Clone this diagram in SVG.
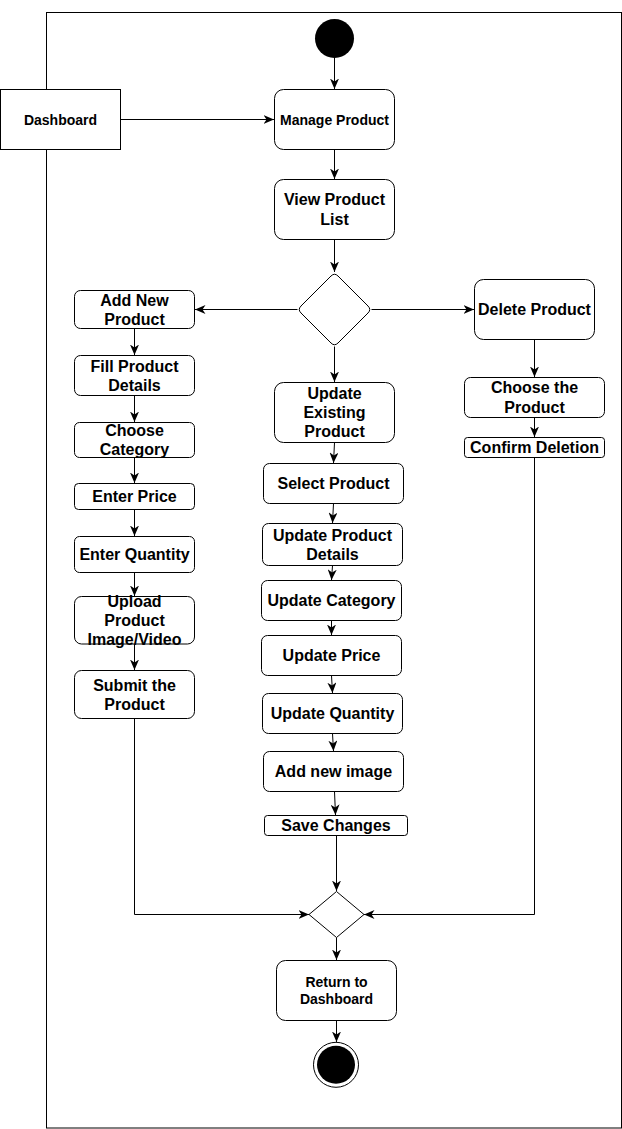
<svg xmlns="http://www.w3.org/2000/svg" width="622" height="1129" viewBox="0 0 622 1129">
<style>
.box{fill:#fff;stroke:#000;stroke-width:1}
.t{font-family:"Liberation Sans",Arial,sans-serif;font-weight:bold;font-size:16px;fill:#000;text-anchor:middle}
.s{font-size:14px}
.c{fill:none;stroke:#000;stroke-width:1}
</style>
<defs>
<marker id="ah" markerUnits="userSpaceOnUse" markerWidth="11" markerHeight="9" viewBox="0 0 11 9" refX="10.5" refY="4.5" orient="auto">
<path d="M0,0 L10.5,4.5 L0,9 L3,4.5 Z" fill="#000"/>
</marker>
</defs>
<rect x="46.5" y="12.5" width="575" height="1115.5" fill="none" stroke="#000" stroke-width="1"/>
<g id="connectors">
<path class="c" d="M120.5,119.5 H274" marker-end="url(#ah)"/>
<path class="c" d="M334.5,58 V89" marker-end="url(#ah)"/>
<path class="c" d="M334.5,149.5 V179" marker-end="url(#ah)"/>
<path class="c" d="M334.5,239.5 V272" marker-end="url(#ah)"/>
<path class="c" d="M297.5,309.5 H195" marker-end="url(#ah)"/>
<path class="c" d="M371.5,309.5 H474" marker-end="url(#ah)"/>
<path class="c" d="M334.5,346.5 V382" marker-end="url(#ah)"/>
<path class="c" d="M134.5,328.5 V355" marker-end="url(#ah)"/>
<path class="c" d="M134.5,395.5 V422" marker-end="url(#ah)"/>
<path class="c" d="M134.5,457.5 V483" marker-end="url(#ah)"/>
<path class="c" d="M134.5,509.5 V536" marker-end="url(#ah)"/>
<path class="c" d="M134.5,572.5 V596" marker-end="url(#ah)"/>
<path class="c" d="M134.5,644 V670" marker-end="url(#ah)"/>
<path class="c" d="M334.5,442.5 L333.5,463" marker-end="url(#ah)"/>
<path class="c" d="M333.5,503.5 L332.5,523" marker-end="url(#ah)"/>
<path class="c" d="M332.5,565.5 L331.5,580" marker-end="url(#ah)"/>
<path class="c" d="M331.5,620.5 L331.5,635" marker-end="url(#ah)"/>
<path class="c" d="M331.5,675.5 L332.5,693" marker-end="url(#ah)"/>
<path class="c" d="M332.5,733.5 L333.5,751" marker-end="url(#ah)"/>
<path class="c" d="M334.5,791.5 L335.5,815" marker-end="url(#ah)"/>
<path class="c" d="M336.5,835.5 V891" marker-end="url(#ah)"/>
<path class="c" d="M534.5,339.5 V377" marker-end="url(#ah)"/>
<path class="c" d="M534.5,417.5 V437" marker-end="url(#ah)"/>
<path class="c" d="M134.5,718.5 V914.5 H309" marker-end="url(#ah)"/>
<path class="c" d="M534.5,457.5 V914.5 H364" marker-end="url(#ah)"/>
<path class="c" d="M336.5,937.5 V960" marker-end="url(#ah)"/>
<path class="c" d="M336.5,1020.5 V1042" marker-end="url(#ah)"/>
</g>
<g id="start"><circle cx="334.5" cy="38.5" r="19.5" fill="#000"/></g>
<g id="dashboard">
<rect class="box" x="0.5" y="89.5" width="120" height="60"/>
<text class="t s" x="60.5" y="124.5">Dashboard</text>
</g>
<g id="manage-product">
<rect class="box" x="274.5" y="89.5" width="120" height="60" rx="9"/>
<text class="t s" x="334.5" y="124.5">Manage Product</text>
</g>
<g id="view-product-list">
<rect class="box" x="274.5" y="179.5" width="120" height="60" rx="9"/>
<text class="t" x="334.5" y="205.4">View Product<tspan x="334.5" dy="19.2">List</tspan></text>
</g>
<g id="decision">
<path class="box" d="M338,276 L368,306 Q371.5,309.5 368,313 L338,343 Q334.5,346.5 331,343 L301,313 Q297.5,309.5 301,306 L331,276 Q334.5,272.5 338,276 Z"/>
</g>
<g id="add-new-product">
<rect class="box" x="74.5" y="290.5" width="120" height="38" rx="6"/>
<text class="t" x="134.5" y="305.6">Add New<tspan x="134.5" dy="19.2">Product</tspan></text>
</g>
<g id="fill-product-details">
<rect class="box" x="74.5" y="355.5" width="120" height="40" rx="6"/>
<text class="t" x="134.5" y="371.6">Fill Product<tspan x="134.5" dy="19.2">Details</tspan></text>
</g>
<g id="choose-category">
<rect class="box" x="74.5" y="422.5" width="120" height="35" rx="5"/>
<text class="t" x="134.5" y="436.1">Choose<tspan x="134.5" dy="19.2">Category</tspan></text>
</g>
<g id="enter-price">
<rect class="box" x="74.5" y="483.5" width="120" height="26" rx="4"/>
<text class="t" x="134.5" y="502.2">Enter Price</text>
</g>
<g id="enter-quantity">
<rect class="box" x="74.5" y="536.5" width="120" height="36" rx="5"/>
<text class="t" x="134.5" y="560.2">Enter Quantity</text>
</g>
<g id="upload-image">
<rect class="box" x="74.5" y="596.5" width="120" height="47.5" rx="7"/>
<text class="t" x="134.5" y="606.5">Upload<tspan x="134.5" dy="19.2">Product</tspan><tspan x="134.5" dy="19.2">Image/Video</tspan></text>
</g>
<g id="submit-product">
<rect class="box" x="74.5" y="670.5" width="120" height="48" rx="7"/>
<text class="t" x="134.5" y="690.6">Submit the<tspan x="134.5" dy="19.2">Product</tspan></text>
</g>
<g id="update-existing">
<rect class="box" x="274.5" y="382.5" width="120" height="60" rx="9"/>
<text class="t" x="334.5" y="399">Update<tspan x="334.5" dy="19.2">Existing</tspan><tspan x="334.5" dy="19.2">Product</tspan></text>
</g>
<g id="select-product">
<rect class="box" x="263.5" y="463.5" width="140" height="40" rx="6"/>
<text class="t" x="333.5" y="489.2">Select Product</text>
</g>
<g id="update-details">
<rect class="box" x="262.5" y="523.5" width="140" height="42" rx="6"/>
<text class="t" x="332.5" y="540.6">Update Product<tspan x="332.5" dy="19.2">Details</tspan></text>
</g>
<g id="update-category">
<rect class="box" x="261.5" y="580.5" width="140" height="40" rx="6"/>
<text class="t" x="331.5" y="606.2">Update Category</text>
</g>
<g id="update-price">
<rect class="box" x="261.5" y="635.5" width="140" height="40" rx="6"/>
<text class="t" x="331.5" y="661.2">Update Price</text>
</g>
<g id="update-quantity">
<rect class="box" x="262.5" y="693.5" width="140" height="40" rx="6"/>
<text class="t" x="332.5" y="719.2">Update Quantity</text>
</g>
<g id="add-new-image">
<rect class="box" x="263.5" y="751.5" width="140" height="40" rx="6"/>
<text class="t" x="333.5" y="777.2">Add new image</text>
</g>
<g id="save-changes">
<rect class="box" x="264.5" y="815.5" width="143" height="20" rx="3"/>
<text class="t" x="336" y="831.2">Save Changes</text>
</g>
<g id="delete-product">
<rect class="box" x="474.5" y="279.5" width="120" height="60" rx="9"/>
<text class="t" x="534.5" y="315.2">Delete Product</text>
</g>
<g id="choose-product">
<rect class="box" x="464.5" y="377.5" width="140" height="40" rx="6"/>
<text class="t" x="534.5" y="393.4">Choose the<tspan x="534.5" dy="19.2">Product</tspan></text>
</g>
<g id="confirm-deletion">
<rect class="box" x="464.5" y="437.5" width="140" height="20" rx="3"/>
<text class="t" x="534.5" y="453.2">Confirm Deletion</text>
</g>
<g id="merge">
<path class="box" d="M336.5,891.5 L364,914.5 L336.5,937.5 L309,914.5 Z"/>
</g>
<g id="return-dashboard">
<rect class="box" x="276.5" y="960.5" width="120" height="60" rx="9"/>
<text class="t s" x="336.5" y="987.1">Return to<tspan x="336.5" dy="16.8">Dashboard</tspan></text>
</g>
<g id="end">
<circle cx="336" cy="1064.8" r="22.5" fill="#fff" stroke="#000" stroke-width="1"/>
<circle cx="336" cy="1064.8" r="19" fill="#000"/>
</g>
</svg>
